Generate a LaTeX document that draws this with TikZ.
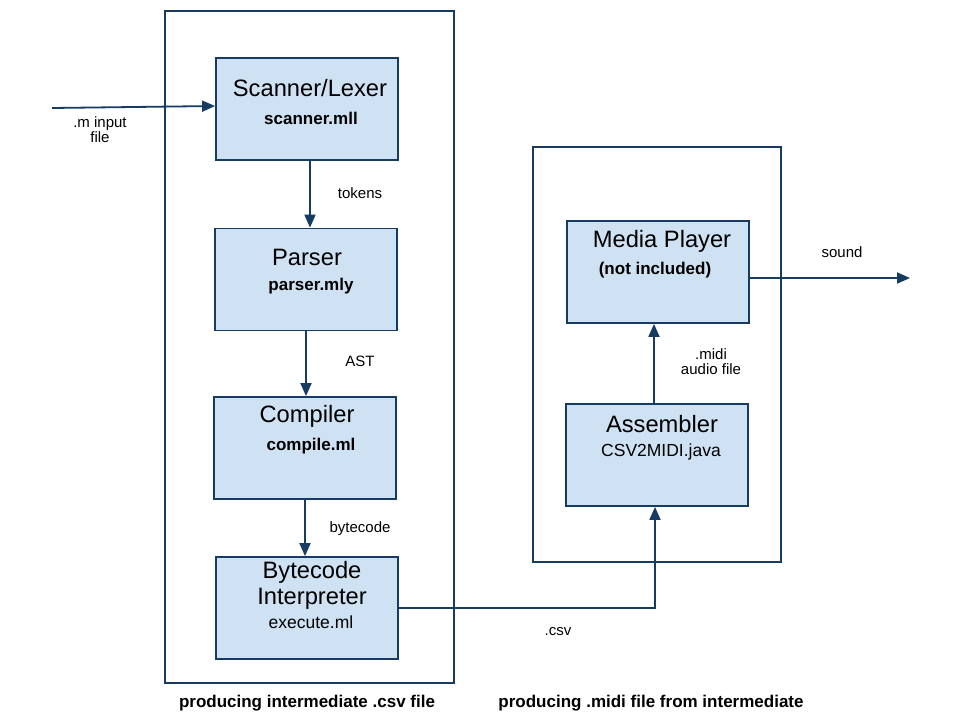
\documentclass[tikz,border=0pt]{standalone}
\usepackage{fontspec}
\setmainfont{Liberation Sans}
\usetikzlibrary{arrows.meta}
\definecolor{boxfill}{RGB}{207,226,243}
\definecolor{navy}{RGB}{22,60,100}
\begin{document}
\begin{tikzpicture}[x=1pt,y=-1pt,
  frame/.style={draw=navy,line width=1.8pt},
  compbox/.style={draw=navy,fill=boxfill,line width=1.8pt,minimum width=182pt,minimum height=102pt,inner sep=0pt},
  title/.style={font=\fontsize{23.7}{25}\selectfont,inner sep=0pt,anchor=center},
  sub/.style={font=\fontsize{17}{18}\selectfont\bfseries,inner sep=0pt,anchor=center},
  subr/.style={font=\fontsize{17.5}{19}\selectfont,inner sep=0pt,anchor=center},
  lbl/.style={font=\fontsize{15}{17}\selectfont,inner sep=0pt,align=center,anchor=center},
  caption/.style={font=\fontsize{17}{18}\selectfont\bfseries,inner sep=0pt,anchor=center},
  conn/.style={draw=navy,line width=1.8pt,-{Triangle[length=13pt,width=11pt]}}
]
\useasboundingbox (0,0) rectangle (960,720);
\fill[white] (0,0) rectangle (960,720);
% frames
\draw[frame] (165,11) rectangle (454,683);
\draw[frame] (533,147) rectangle (781,562);
% boxes
\node[compbox] (scan) at (307,109) {};
\node[compbox] (pars) at (306,279.5) {};
\node[compbox] (comp) at (305,448) {};
\node[compbox] (bc) at (307,608) {};
\node[compbox] (mp) at (658,272) {};
\node[compbox] (asm) at (657,455) {};
% texts
\node[title] (t1) at (310,88) {Scanner/Lexer};
\node[sub] (s1) at (311,118) {scanner.mll};
\node[title] (t2) at (307,257) {Parser};
\node[sub] (s2) at (311,286) {parser.mly};
\node[title] (t3) at (307,416) {Compiler};
\node[sub] (s3) at (311,446) {compile.ml};
\node[title] (t4a) at (312,572) {Bytecode};
\node[title] (t4b) at (312,599) {Interpreter};
\node[subr] (s4) at (311,622) {execute.ml};
\node[title] (t5) at (662,241) {Media Player};
\node[sub] (s5) at (655,270) {(not included)};
\node[title] (t6) at (662,424) {Assembler};
\node[subr] (s6) at (661,452) {CSV2MIDI.java};
% connectors
\coordinate (inp) at (52,108);
\coordinate (snd) at (910,278);
\draw[conn] (inp) -- ([yshift=3pt]scan.west);
\draw[conn] ([xshift=3pt]scan.south) -- ([xshift=4pt]pars.north);
\draw[conn] (pars.south) -- ([xshift=1pt]comp.north);
\draw[conn] (comp.south) -- ([xshift=-2pt]bc.north);
\draw[conn] (bc.east) -| ([xshift=-2pt]asm.south);
\draw[conn] ([xshift=-3pt]asm.north) -- ([xshift=-4pt]mp.south);
\draw[conn] ([yshift=-6pt]mp.east) -- (snd);
% labels
\node[lbl] (l1) at (100,130) {.m input\\[-2pt]file};
\node[lbl] (l2) at (360,193) {tokens};
\node[lbl] (l3) at (360,361) {AST};
\node[lbl] (l4) at (360,529) {bytecode};
\node[lbl] (l5) at (558,632) {.csv};
\node[lbl] (l6) at (711,362) {.midi\\[-2pt]audio file};
\node[lbl] (l7) at (842,252) {sound};
\node[caption] (c1) at (307,703) {producing intermediate .csv file};
\node[caption] (c2) at (651,703) {producing .midi file from intermediate};
\end{tikzpicture}
\end{document}
